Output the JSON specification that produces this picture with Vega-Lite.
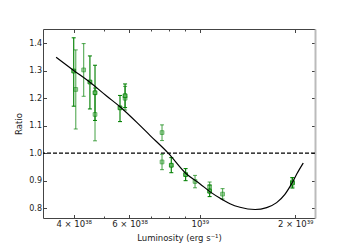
{
  "$schema": "https://vega.github.io/schema/vega-lite/v6.json",
  "width": 272,
  "height": 189,
  "autosize": {"type": "none"},
  "padding": {"left": 43, "top": 29, "right": 35, "bottom": 27},
  "config": {
    "view": {"stroke": null},
    "font": "DejaVu Sans",
    "axis": {
      "grid": false,
      "domainColor": "#444",
      "domainWidth": 1,
      "tickColor": "#444",
      "labelColor": "#222",
      "labelFontSize": 8,
      "titleFontSize": 8.5,
      "titleFontWeight": "normal",
      "titleColor": "#222"
    }
  },
  "datasets": {
    "pts": [
      {"L": 4.00e38, "r": 1.299, "lo": 1.171, "hi": 1.420, "s": "dark"},
      {"L": 4.06e38, "r": 1.232, "lo": 1.088, "hi": 1.376, "s": "light"},
      {"L": 4.30e38, "r": 1.303, "lo": 1.207, "hi": 1.399, "s": "light"},
      {"L": 4.50e38, "r": 1.259, "lo": 1.161, "hi": 1.354, "s": "dark"},
      {"L": 4.67e38, "r": 1.141, "lo": 1.045, "hi": 1.237, "s": "light"},
      {"L": 4.67e38, "r": 1.220, "lo": 1.119, "hi": 1.320, "s": "dark"},
      {"L": 5.60e38, "r": 1.165, "lo": 1.115, "hi": 1.210, "s": "dark"},
      {"L": 5.81e38, "r": 1.200, "lo": 1.157, "hi": 1.243, "s": "light"},
      {"L": 5.81e38, "r": 1.209, "lo": 1.166, "hi": 1.252, "s": "dark"},
      {"L": 7.60e38, "r": 1.075, "lo": 1.046, "hi": 1.103, "s": "light"},
      {"L": 7.60e38, "r": 0.968, "lo": 0.940, "hi": 0.996, "s": "light"},
      {"L": 8.13e38, "r": 0.956, "lo": 0.929, "hi": 0.984, "s": "dark"},
      {"L": 9.02e38, "r": 0.922, "lo": 0.900, "hi": 0.944, "s": "dark"},
      {"L": 9.66e38, "r": 0.897, "lo": 0.874, "hi": 0.919, "s": "light"},
      {"L": 1.074e39, "r": 0.877, "lo": 0.855, "hi": 0.895, "s": "light"},
      {"L": 1.074e39, "r": 0.862, "lo": 0.842, "hi": 0.884, "s": "dark"},
      {"L": 1.18e39, "r": 0.851, "lo": 0.833, "hi": 0.871, "s": "light"},
      {"L": 1.96e39, "r": 0.895, "lo": 0.877, "hi": 0.911, "s": "light"},
      {"L": 1.96e39, "r": 0.891, "lo": 0.873, "hi": 0.911, "s": "dark"}
    ],
    "fit": [
      {"L": 3.52e38, "r": 1.349},
      {"L": 3.99e38, "r": 1.302},
      {"L": 4.50e38, "r": 1.258},
      {"L": 5.08e38, "r": 1.208},
      {"L": 5.60e38, "r": 1.169},
      {"L": 6.47e38, "r": 1.101},
      {"L": 6.96e38, "r": 1.065},
      {"L": 7.95e38, "r": 1.000},
      {"L": 9.08e38, "r": 0.924},
      {"L": 1.00e39, "r": 0.889},
      {"L": 1.076e39, "r": 0.860},
      {"L": 1.186e39, "r": 0.829},
      {"L": 1.245e39, "r": 0.816},
      {"L": 1.339e39, "r": 0.803},
      {"L": 1.494e39, "r": 0.795},
      {"L": 1.626e39, "r": 0.802},
      {"L": 1.748e39, "r": 0.820},
      {"L": 1.856e39, "r": 0.850},
      {"L": 1.95e39, "r": 0.889},
      {"L": 2.025e39, "r": 0.925},
      {"L": 2.12e39, "r": 0.964}
    ]
  },
  "layer": [
    {
      "data": {"name": "pts"},
      "mark": {"type": "rule", "color": "#008000", "strokeWidth": 1.2},
      "encoding": {
        "x": {
          "field": "L", "type": "quantitative",
          "scale": {"type": "log", "domain": [3.2e38, 2.31e39], "nice": false},
          "axis": {
            "orient": "bottom",
            "title": "Luminosity (erg s⁻¹)",
            "titlePadding": 4,
            "values": [4e38, 5e38, 6e38, 7e38, 8e38, 9e38, 1e39, 2e39],
            "labelExpr": "round(datum.value/1e37)==40 ? '4 × 10³⁸' : round(datum.value/1e37)==60 ? '6 × 10³⁸' : round(datum.value/1e37)==100 ? '10³⁹' : round(datum.value/1e37)==200 ? '2 × 10³⁹' : ''",
            "labelFontSize": 8.5,
            "tickSize": {"condition": {"test": "indexof([40,60,100,200], round(datum.value/1e37)) >= 0", "value": -3.5}, "value": -2},
            "labelPadding": 5,
            "labelFlush": false,
            "labelOverlap": false
          }
        },
        "y": {
          "field": "lo", "type": "quantitative",
          "scale": {"domain": [0.764, 1.452], "nice": false, "zero": false},
          "axis": {
            "orient": "left",
            "title": "Ratio",
            "values": [0.8, 0.9, 1.0, 1.1, 1.2, 1.3, 1.4],
            "format": ".1f",
            "tickSize": -3.5,
            "labelPadding": 5,
            "titlePadding": 5
          }
        },
        "y2": {"field": "hi"},
        "opacity": {"field": "s", "type": "nominal", "scale": {"domain": ["dark", "light"], "range": [0.95, 0.62]}, "legend": null}
      }
    },
    {
      "data": {"name": "pts"},
      "transform": [{"fold": ["lo", "hi"], "as": ["k", "v"]}],
      "mark": {"type": "tick", "color": "#008000", "orient": "horizontal", "size": 4, "thickness": 1.1},
      "encoding": {
        "x": {"field": "L", "type": "quantitative", "scale": {"type": "log", "domain": [3.2e38, 2.31e39], "nice": false}, "axis": null},
        "y": {"field": "v", "type": "quantitative", "scale": {"domain": [0.764, 1.452], "nice": false, "zero": false}, "axis": null},
        "opacity": {"field": "s", "type": "nominal", "scale": {"domain": ["dark", "light"], "range": [0.95, 0.62]}, "legend": null}
      }
    },
    {
      "data": {"name": "pts"},
      "mark": {"type": "point", "shape": "square", "filled": true, "size": 14, "fill": "#5fb55f", "stroke": "#008000", "strokeWidth": 0.9},
      "encoding": {
        "x": {"field": "L", "type": "quantitative", "scale": {"type": "log", "domain": [3.2e38, 2.31e39], "nice": false}, "axis": null},
        "y": {"field": "r", "type": "quantitative", "scale": {"domain": [0.764, 1.452], "nice": false, "zero": false}, "axis": null},
        "opacity": {"field": "s", "type": "nominal", "scale": {"domain": ["dark", "light"], "range": [0.95, 0.68]}, "legend": null}
      }
    },
    {
      "data": {"values": [{"y": 1.0}]},
      "mark": {"type": "rule", "color": "black", "strokeDash": [4, 2], "strokeWidth": 1.1},
      "encoding": {
        "y": {"field": "y", "type": "quantitative", "scale": {"domain": [0.764, 1.452], "nice": false, "zero": false}, "axis": null}
      }
    },
    {
      "data": {"name": "fit"},
      "mark": {"type": "line", "color": "black", "strokeWidth": 1.2, "interpolate": "monotone"},
      "encoding": {
        "x": {
          "field": "L", "type": "quantitative",
          "scale": {"type": "log", "domain": [3.2e38, 2.31e39], "nice": false},
          "axis": {
            "orient": "top", "title": null, "labels": false,
            "values": [4e38, 5e38, 6e38, 7e38, 8e38, 9e38, 1e39, 2e39],
            "tickSize": {"condition": {"test": "indexof([40,60,100,200], round(datum.value/1e37)) >= 0", "value": -3.5}, "value": -2}
          }
        },
        "y": {
          "field": "r", "type": "quantitative",
          "scale": {"domain": [0.764, 1.452], "nice": false, "zero": false},
          "axis": {
            "orient": "right", "title": null, "labels": false,
            "values": [0.8, 0.9, 1.0, 1.1, 1.2, 1.3, 1.4],
            "tickSize": -3.5,
            "domainColor": "#bbb",
            "domainWidth": 2
          }
        }
      }
    }
  ],
  "resolve": {"axis": {"x": "independent", "y": "independent"}}
}
